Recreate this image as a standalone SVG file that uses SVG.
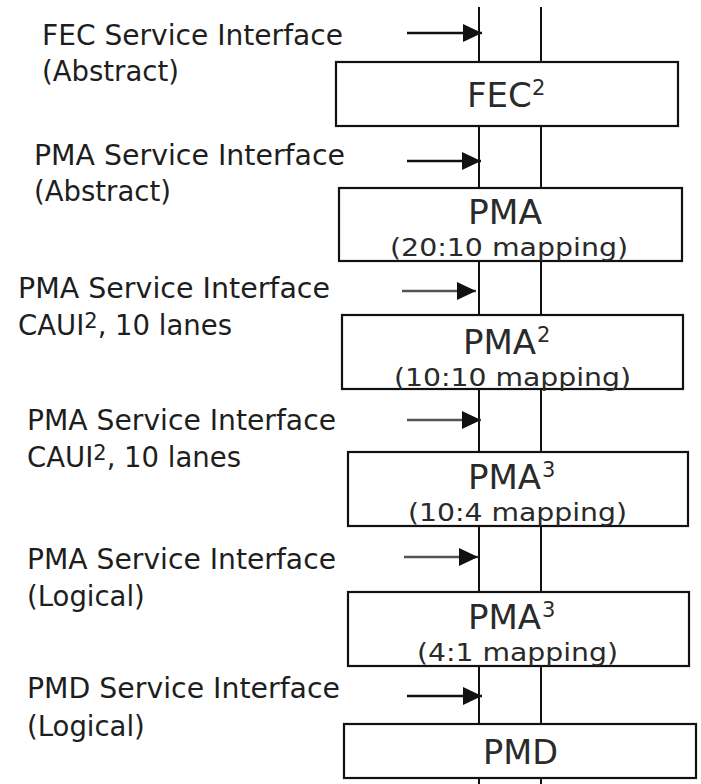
<svg xmlns="http://www.w3.org/2000/svg" width="701" height="784" viewBox="0 0 701 784">
<style>
.lbl{font-family:"DejaVu Sans","Liberation Sans",sans-serif;font-size:27.5px;fill:#1e1e1e}
.ttl{font-family:"DejaVu Sans","Liberation Sans",sans-serif;font-size:34px;fill:#2a2a2a}
.map{font-family:"DejaVu Sans","Liberation Sans",sans-serif;font-size:24px;fill:#2a2a2a}
.sup{font-size:21px}
.box{fill:#fff;stroke:#111;stroke-width:2.2}
.vl{stroke:#111;stroke-width:2;fill:none}
.ar{stroke:#111;stroke-width:2.6;fill:none;marker-end:url(#ah)}
.ar2{stroke:#555;stroke-width:2.6;fill:none;marker-end:url(#ah)}
</style>
<defs>
<marker id="ah" markerUnits="userSpaceOnUse" markerWidth="19" markerHeight="18" refX="19" refY="9" orient="auto">
<path d="M0,0 L19,9 L0,18 z" fill="#111"/>
</marker>
</defs>
<rect width="701" height="784" fill="#fff"/>
<g id="connectors">
<line class="vl" x1="479" y1="7" x2="479" y2="784"/>
<line class="vl" x1="541" y1="7" x2="541" y2="784"/>
<line class="ar" x1="407" y1="33" x2="482" y2="33"/>
<line class="ar" x1="407" y1="161" x2="481" y2="161"/>
<line class="ar2" x1="402" y1="291" x2="476" y2="291"/>
<line class="ar2" x1="407" y1="420" x2="481" y2="420"/>
<line class="ar2" x1="404" y1="557" x2="478" y2="557"/>
<line class="ar" x1="407" y1="696" x2="482" y2="696"/>
</g>
<g id="label-fec">
<text class="lbl" x="42" y="45" textLength="301" lengthAdjust="spacingAndGlyphs">FEC Service Interface</text>
<text class="lbl" x="42" y="81">(Abstract)</text>
</g>
<g id="label-pma1">
<text class="lbl" x="34" y="165" textLength="311" lengthAdjust="spacingAndGlyphs">PMA Service Interface</text>
<text class="lbl" x="34" y="201">(Abstract)</text>
</g>
<g id="label-pma2">
<text class="lbl" x="18" y="298" textLength="312" lengthAdjust="spacingAndGlyphs">PMA Service Interface</text>
<text class="lbl" x="18" y="335">CAUI<tspan class="sup" dy="-7">2</tspan><tspan dy="7">, 10 lanes</tspan></text>
</g>
<g id="label-pma3">
<text class="lbl" x="27" y="430" textLength="309" lengthAdjust="spacingAndGlyphs">PMA Service Interface</text>
<text class="lbl" x="27" y="467">CAUI<tspan class="sup" dy="-7">2</tspan><tspan dy="7">, 10 lanes</tspan></text>
</g>
<g id="label-pma4">
<text class="lbl" x="27" y="569" textLength="309" lengthAdjust="spacingAndGlyphs">PMA Service Interface</text>
<text class="lbl" x="27" y="606">(Logical)</text>
</g>
<g id="label-pmd">
<text class="lbl" x="27" y="698" textLength="313" lengthAdjust="spacingAndGlyphs">PMD Service Interface</text>
<text class="lbl" x="27" y="736">(Logical)</text>
</g>
<g id="node-fec">
<rect class="box" x="336" y="62" width="342" height="64"/>
<text class="ttl" x="467" y="107">FEC<tspan class="sup" x="532" y="95">2</tspan></text>
</g>
<g id="node-pma-20-10">
<rect class="box" x="339" y="188" width="343" height="73"/>
<text class="ttl" x="468" y="224" textLength="74" lengthAdjust="spacingAndGlyphs">PMA</text>
<text class="map" x="390" y="256" textLength="238" lengthAdjust="spacingAndGlyphs">(20:10 mapping)</text>
</g>
<g id="node-pma-10-10">
<rect class="box" x="342" y="315" width="341" height="74"/>
<text class="ttl" x="463" y="354">PMA<tspan class="sup" x="537" y="342">2</tspan></text>
<text class="map" x="394" y="386" textLength="237" lengthAdjust="spacingAndGlyphs">(10:10 mapping)</text>
</g>
<g id="node-pma-10-4">
<rect class="box" x="348" y="452" width="340" height="74"/>
<text class="ttl" x="468" y="489">PMA<tspan class="sup" x="542" y="477">3</tspan></text>
<text class="map" x="408" y="521" textLength="219" lengthAdjust="spacingAndGlyphs">(10:4 mapping)</text>
</g>
<g id="node-pma-4-1">
<rect class="box" x="348" y="592" width="341" height="74"/>
<text class="ttl" x="468" y="629">PMA<tspan class="sup" x="542" y="617">3</tspan></text>
<text class="map" x="417" y="661" textLength="201" lengthAdjust="spacingAndGlyphs">(4:1 mapping)</text>
</g>
<g id="node-pmd">
<rect class="box" x="344" y="724" width="352" height="54"/>
<text class="ttl" x="483" y="764" textLength="75" lengthAdjust="spacingAndGlyphs">PMD</text>
</g>
</svg>
